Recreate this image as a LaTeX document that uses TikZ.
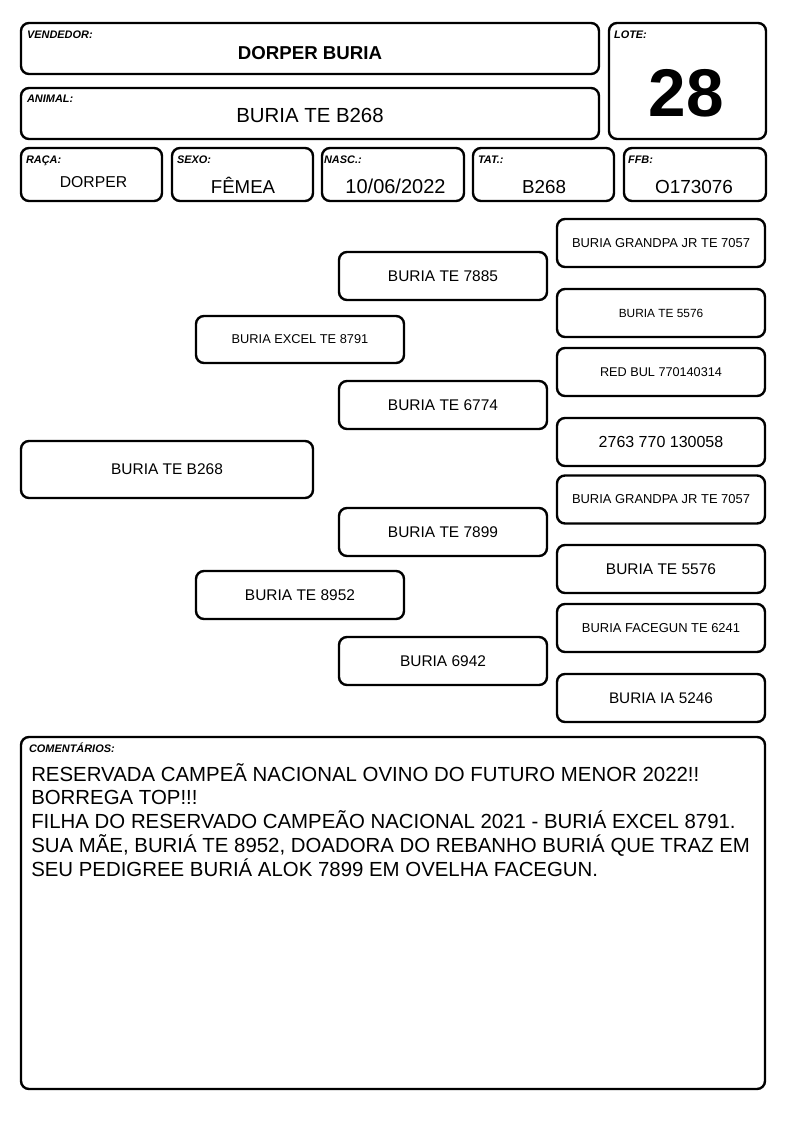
\documentclass[tikz,border=0pt]{standalone}
\usepackage{fontspec}
\setmainfont{Liberation Sans}
\newcommand{\fsz}[1]{\fontsize{#1pt}{#1pt}\selectfont}

\begin{document}
\begin{tikzpicture}[
		x=0.75pt, y=-0.75pt,
		% Define styles for boxes and texts
		box/.style={draw, line width=1.8pt, rounded corners=6pt, inner sep=0pt, align=center},
		dim/.style 2 args={minimum width=#1*0.75pt, minimum height=#2*0.75pt},
		tag/.style={anchor=base west, inner sep=0pt, font=\fsz{8.2}\bfseries\itshape},
		val/.style={anchor=base, inner sep=0pt}
	]
	\useasboundingbox (0,0) rectangle (794,1123);

	% Header
	\node[box, dim={578}{51}] (vendedor) at (310,48.5) {};
	\node[tag] (vendedortag) at ([shift={(7,16.5)}]vendedor.north west) {VENDEDOR:};
	\node[val, font=\fsz{14}\bfseries] (vendedorval) at (310,60) {DORPER BURIA};

	\node[box, dim={578}{51}] (animal) at (310,113.5) {};
	\node[tag] (animaltag) at ([shift={(7,16)}]animal.north west) {ANIMAL:};
	\node[val, font=\fsz{15.3}] (animalval) at (310,122.5) {BURIA TE B268};

	\node[box, dim={157}{116}] (lote) at (687.5,81) {};
	\node[tag] (lotetag) at ([shift={(6,17)}]lote.north west) {LOTE:};
	\node[val, font=\fsz{50.6}\bfseries] (loteval) at (686,117) {28};

	% Second row
	\node[box, dim={141}{53}] (raca) at (91.5,174.5) {};
	\node[tag] (racatag) at ([shift={(6,16.5)}]raca.north west) {RAÇA:};
	\node[val, font=\fsz{11.8}] (racaval) at (93.5,188) {DORPER};

	\node[box, dim={141}{53}] (sexo) at (242.5,174.5) {};
	\node[tag] (sexotag) at ([shift={(6,16.5)}]sexo.north west) {SEXO:};
	\node[val, font=\fsz{14}] (sexoval) at (243,193.5) {FÊMEA};

	\node[box, dim={142}{53}] (nasc) at (393,174.5) {};
	\node[tag] (nasctag) at ([shift={(3,16.5)}]nasc.north west) {NASC.:};
	\node[val, font=\fsz{15}] (nascval) at (395.5,193.5) {10/06/2022};

	\node[box, dim={141}{53}] (tat) at (543.5,174.5) {};
	\node[tag] (tattag) at ([shift={(6,16.5)}]tat.north west) {TAT.:};
	\node[val, font=\fsz{14.1}] (tatval) at (544,193.5) {B268};

	\node[box, dim={142}{53}] (ffb) at (695,174.5) {};
	\node[tag] (ffbtag) at ([shift={(5,16.5)}]ffb.north west) {FFB:};
	\node[val, font=\fsz{14.2}] (ffbval) at (694,193.5) {O173076};

	% Pedigree
	\node[box, dim={292}{57}, font=\fsz{11.6}] (p0) at (167,469.5) {BURIA TE B268};

	\node[box, dim={208}{47}, font=\fsz{9.6}] (s) at (300,339.5) {BURIA EXCEL TE 8791};
	\node[box, dim={208}{48}, font=\fsz{11.6}] (d) at (300,595) {BURIA TE 8952};

	\node[box, dim={208}{48}, font=\fsz{11.6}] (ss) at (443,276) {BURIA TE 7885};
	\node[box, dim={208}{48}, font=\fsz{11.6}] (sd) at (443,405) {BURIA TE 6774};
	\node[box, dim={208}{48}, font=\fsz{11.6}] (ds) at (443,532) {BURIA TE 7899};
	\node[box, dim={208}{48}, font=\fsz{11.6}] (dd) at (443,661) {BURIA 6942};

	\node[box, dim={208}{48}, font=\fsz{9.7}] (sss) at (661,243) {BURIA GRANDPA JR TE 7057};
	\node[box, dim={208}{48}, font=\fsz{8.9}] (ssd) at (661,313) {BURIA TE 5576};
	\node[box, dim={208}{48}, font=\fsz{9.5}] (sds) at (661,372) {RED BUL 770140314};
	\node[box, dim={208}{48}, font=\fsz{12}] (sdd) at (661,442) {2763 770 130058};
	\node[box, dim={208}{48}, font=\fsz{9.7}] (dss) at (661,499.5) {BURIA GRANDPA JR TE 7057};
	\node[box, dim={208}{48}, font=\fsz{11.6}] (dsd) at (661,569) {BURIA TE 5576};
	\node[box, dim={208}{48}, font=\fsz{9.7}] (dds) at (661,628) {BURIA FACEGUN TE 6241};
	\node[box, dim={208}{48}, font=\fsz{11.5}] (ddd) at (661,698) {BURIA IA 5246};

	% Comments
	\node[box, dim={744}{352}] (coment) at (393,913) {};
	\node[tag] (comenttag) at ([shift={(9,17)}]coment.north west) {COMENTÁRIOS:};
	\node[anchor=base west, inner sep=0pt, align=left, font=\fontsize{15.3pt}{17.8pt}\selectfont] (comenttxt) at (31,876)
	{RESERVADA CAMPEÃ NACIONAL OVINO DO FUTURO MENOR 2022!!\\
		BORREGA TOP!!!\\
		FILHA DO RESERVADO CAMPEÃO NACIONAL 2021 - BURIÁ EXCEL 8791.\\
		SUA MÃE, BURIÁ TE 8952, DOADORA DO REBANHO BURIÁ QUE TRAZ EM\\
		SEU PEDIGREE BURIÁ ALOK 7899 EM OVELHA FACEGUN.};
\end{tikzpicture}
\end{document}
